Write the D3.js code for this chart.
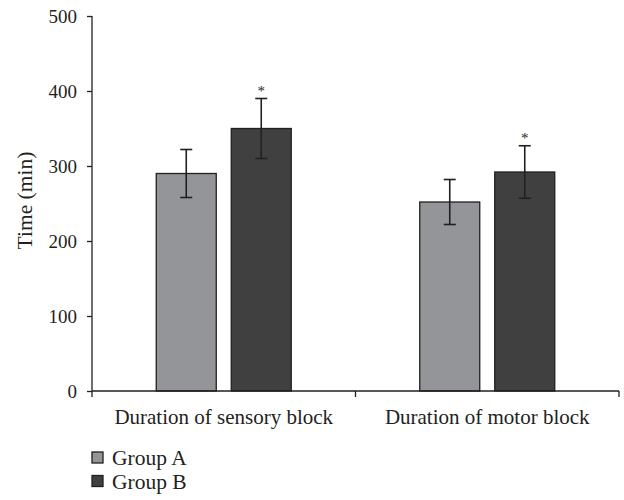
<!DOCTYPE html>
<html>
<head>
<meta charset="utf-8">
<script src="https://cdn.jsdelivr.net/npm/d3@7"></script>
<style>
  html, body { margin: 0; padding: 0; background: #fff; }
  text { font-family: "Liberation Serif", "Times New Roman", serif; fill: #231f20; }
</style>
</head>
<body>
<svg id="chart" width="624" height="500"></svg>
<script>
const categories = ["Duration of sensory block", "Duration of motor block"];
const groups = ["Group A", "Group B"];
const groupAValues = [290, 252];
const groupBValues = [350, 292];
const groupAErrors = [32, 30];
const groupBErrors = [40, 35];
const significant = [[false, true], [false, true]];
const yTicks = [0, 100, 200, 300, 400, 500];
const colors = ["#939598", "#404041"];

const svg = d3.select("#chart");
const margin = { left: 92, right: 5, top: 16, bottom: 109 };
const W = 624, H = 500;

const x0 = d3.scaleBand().domain(categories).range([margin.left, W - margin.right]);
const y = d3.scaleLinear().domain([0, 500]).range([H - margin.bottom, margin.top]);
const x1 = d3.scaleBand().domain(groups).range([-67.5, 67.5]).paddingInner(0.2);

const data = categories.map((c, i) => ({
  cat: c,
  vals: [
    { g: groups[0], v: groupAValues[i], e: groupAErrors[i], sig: significant[i][0] },
    { g: groups[1], v: groupBValues[i], e: groupBErrors[i], sig: significant[i][1] }
  ]
}));

const ink = "#231f20";

// Bars
const cg = svg.selectAll("g.cat").data(data).join("g")
  .attr("class", "cat")
  .attr("transform", d => `translate(${x0(d.cat) + x0.bandwidth() / 2},0)`);

cg.selectAll("rect").data(d => d.vals).join("rect")
  .attr("x", d => x1(d.g))
  .attr("y", d => y(d.v))
  .attr("width", x1.bandwidth())
  .attr("height", d => y(0) - y(d.v))
  .attr("fill", (d, i) => colors[i])
  .attr("stroke", ink)
  .attr("stroke-width", 1.3);

// Error bars
cg.selectAll("g.err").data(d => d.vals).join("g")
  .attr("class", "err")
  .each(function(d) {
    const g = d3.select(this);
    const cx = x1(d.g) + x1.bandwidth() / 2;
    g.append("line").attr("x1", cx).attr("x2", cx)
      .attr("y1", y(d.v + d.e)).attr("y2", y(d.v - d.e))
      .attr("stroke", ink).attr("stroke-width", 1.6);
    [d.v + d.e, d.v - d.e].forEach(v => {
      g.append("line").attr("x1", cx - 6).attr("x2", cx + 6)
        .attr("y1", y(v)).attr("y2", y(v))
        .attr("stroke", ink).attr("stroke-width", 1.6);
    });
    if (d.sig) {
      g.append("text").attr("x", cx).attr("y", y(d.v + d.e) - 3)
        .attr("text-anchor", "middle").attr("font-size", 15).text("*");
    }
  });

// Y axis
const yAxis = d3.axisLeft(y).tickValues(yTicks).tickSize(5).tickPadding(10);
const yg = svg.append("g").attr("transform", `translate(${margin.left},0)`).call(yAxis);
yg.select(".domain").attr("stroke", ink).attr("stroke-width", 1.3)
  .attr("d", `M0,${y(500)}V${y(0)}`);
yg.selectAll(".tick line").attr("stroke", ink).attr("stroke-width", 1.3);
yg.selectAll(".tick text").attr("font-size", 19).attr("font-family", "Liberation Serif, serif").attr("fill", ink);

// X axis
const xg = svg.append("g").attr("transform", `translate(0,${y(0)})`);
xg.append("line").attr("x1", x0.range()[0]).attr("x2", x0.range()[1])
  .attr("y1", 0).attr("y2", 0).attr("stroke", ink).attr("stroke-width", 1.3);
const xTickPos = [x0.range()[0], ...categories.map(c => x0(c) + x0.bandwidth())];
xg.selectAll("line.xt").data(xTickPos).join("line").attr("class", "xt")
  .attr("x1", d => d).attr("x2", d => d).attr("y1", 0).attr("y2", 6)
  .attr("stroke", ink).attr("stroke-width", 1.3);
xg.selectAll("text.xl").data(categories).join("text").attr("class", "xl")
  .attr("x", d => x0(d) + x0.bandwidth() / 2).attr("y", 33)
  .attr("text-anchor", "middle").attr("font-size", 21).text(d => d);

// Y label
svg.append("text")
  .attr("transform", `translate(32,${(y(0) + y(500)) / 2 - 3}) rotate(-90)`)
  .attr("text-anchor", "middle").attr("font-size", 21.5).text("Time (min)");

// Legend
const lg = svg.selectAll("g.leg").data(groups).join("g").attr("class", "leg")
  .attr("transform", (d, i) => `translate(92,${452 + i * 23.5})`);
lg.append("rect").attr("width", 11).attr("height", 11)
  .attr("fill", (d, i) => colors[i]).attr("stroke", ink).attr("stroke-width", 1.3);
lg.append("text").attr("x", 20).attr("y", 13).attr("font-size", 21.5).text(d => d);
</script>
</body>
</html>
